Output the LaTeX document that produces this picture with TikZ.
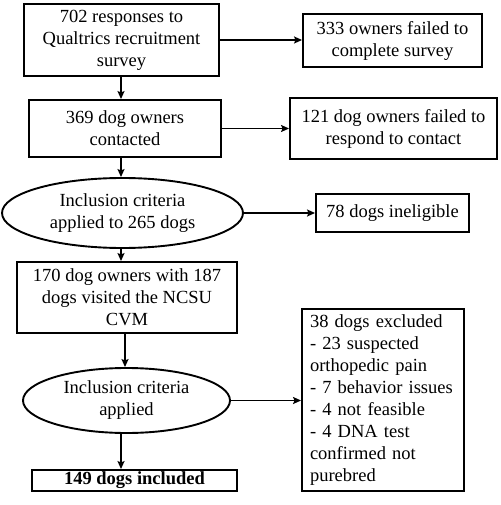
\documentclass[tikz,border=0pt]{standalone}
\usepackage{fontspec}
\setmainfont{Liberation Serif}
\usetikzlibrary{arrows.meta,shapes.geometric}

\begin{document}
\begin{tikzpicture}[x=1pt,y=-1pt,->,>={Stealth[length=8pt,width=7pt,inset=1.5pt]},line width=1.9pt,
  main box/.style={draw,rectangle,align=center,inner sep=0pt,font=\fontsize{18.5}{22}\selectfont},
  crit node/.style={draw,ellipse,align=center,inner sep=0pt,font=\fontsize{18.5}{22}\selectfont}]
  \useasboundingbox (0,0) rectangle (500,505);
  % main column
  \node[main box,minimum width=195,minimum height=72] (1) at (121.5,40) {702 responses to\\Qualtrics recruitment\\survey};
  \node[main box,minimum width=192,minimum height=57] (2) at (125,128.5) {369 dog owners\\contacted};
  \node[crit node,minimum width=241,minimum height=70] (3) at (122.5,213) {Inclusion criteria\\applied to 265 dogs};
  \node[main box,minimum width=220,minimum height=71] (4) at (127,297.5) {170 dog owners with 187\\dogs visited the NCSU\\CVM};
  \node[crit node,minimum width=207,minimum height=65] (5) at (126.5,400.5) {Inclusion criteria\\applied};
  \node[main box,minimum width=205,minimum height=21] (6) at (134.5,480.5) {\bfseries 149 dogs included};
  % side boxes
  \node[main box,minimum width=179,minimum height=53] (r1) at (392.5,40.5) {333 owners failed to\\complete survey};
  \node[main box,minimum width=207,minimum height=61] (r2) at (393.5,128.5) {121 dog owners failed to\\respond to contact};
  \node[main box,minimum width=153,minimum height=38] (r3) at (392.5,213) {78 dogs ineligible};
  \node[main box,align=left,text width=146,inner xsep=8,minimum height=182] (r4) at (383,400) {38 dogs excluded\\- 23 suspected\\orthopedic pain\\- 7 behavior issues\\- 4 not feasible\\- 4 DNA test\\confirmed not\\purebred};

  \draw (1.south -| 121,0) -- (121,0 |- 2.north);
  \draw (2.south -| 121,0) -- (121,0 |- 3.north);
  \draw (3.south -| 121,0) -- (121,0 |- 4.north);
  \draw (4.south -| 125,0) -- (125,0 |- 5.north);
  \draw (5.south -| 121,0) -- (121,0 |- 6.north);
  \draw (1.east) -- (1.east -| r1.west);
  \draw (2.east) -- (2.east -| r2.west);
  \draw (3.east) -- (3.east -| r3.west);
  \draw (5.east) -- (5.east -| r4.west);
\end{tikzpicture}
\end{document}
